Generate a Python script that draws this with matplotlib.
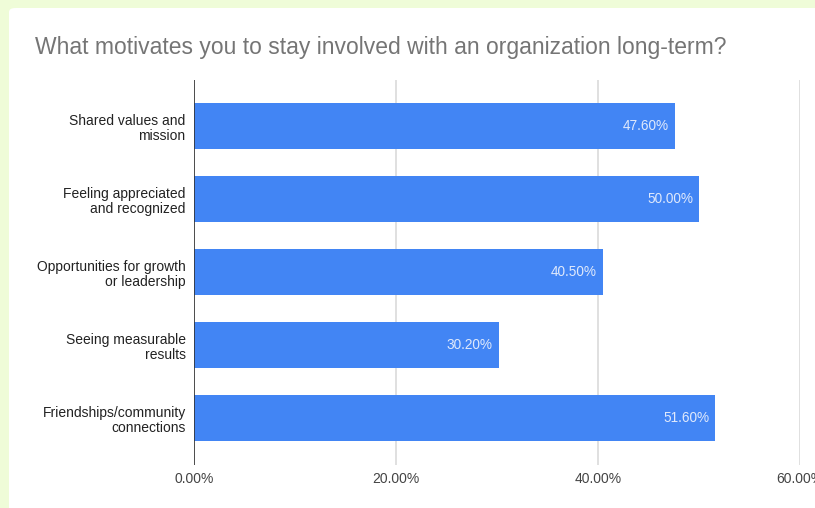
import matplotlib
matplotlib.use("Agg")
import matplotlib.pyplot as plt
from matplotlib.patches import FancyBboxPatch

categories = [
    "Shared values and\nmission",
    "Feeling appreciated\nand recognized",
    "Opportunities for growth\nor leadership",
    "Seeing measurable\nresults",
    "Friendships/community\nconnections",
]
values = [47.6, 50.0, 40.5, 30.2, 51.6]
ticks = [0, 20, 40, 60]
tick_labels = ["0.00%", "20.00%", "40.00%", "60.00%"]
title = "What motivates you to stay involved with an organization long-term?"

W, H = 815, 508
fig = plt.figure(figsize=(W / 100, H / 100), dpi=100)
fig.patch.set_facecolor("#effcd8")
plt.rcParams["font.family"] = ["Liberation Sans", "DejaVu Sans"]

# white card behind everything
card = FancyBboxPatch((9 / W, -0.05), 1.0, 1.05 - 8 / H,
                      boxstyle="round,pad=0,rounding_size=0.008",
                      transform=fig.transFigure, facecolor="white",
                      edgecolor="none", zorder=-10)
fig.patches.append(card)

fig.text(35 / W, 1 - 47 / H, title, fontsize=16.5, color="#757575",
         ha="left", va="center")

ax = fig.add_axes([194 / W, 1 - 465 / H, (800 - 194) / W, (465 - 80) / H])
ax.set_facecolor("none")
y = list(range(len(categories)))
bars = ax.barh(y, values, height=0.63, color="#4285f4", zorder=3)
for yi, v in zip(y, values):
    ax.text(v - 0.6, yi, f"{v:.2f}%", ha="right", va="center",
            fontsize=9.8, color="#dfe9fc", zorder=4)

ax.set_ylim(4.64, -0.63)
ax.set_xlim(0, 60)
ax.set_yticks(y)
ax.set_yticklabels(categories, fontsize=10, color="#222222",
                   linespacing=1.15)
ax.set_xticks(ticks)
ax.set_xticklabels(tick_labels, fontsize=10, color="#444444")
ax.tick_params(axis="both", length=0)
ax.tick_params(axis="x", pad=5)
ax.tick_params(axis="y", pad=6)
for lbl in ax.get_yticklabels():
    lbl.set_ha("right")

ax.grid(axis="x", color="#dddddd", linewidth=1.3, zorder=1)
ax.set_axisbelow(True)
for s in ax.spines.values():
    s.set_visible(False)
ax.axvline(0, color="#333333", linewidth=1.2, zorder=5)

fig.savefig("out.png", dpi=100, facecolor=fig.get_facecolor())
